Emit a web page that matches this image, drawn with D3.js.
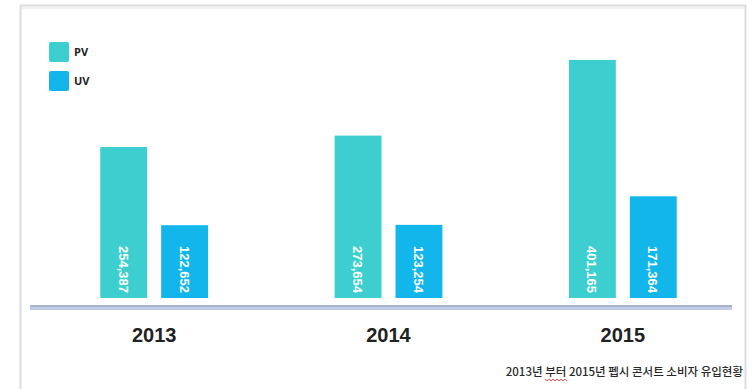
<!DOCTYPE html>
<html>
<head>
<meta charset="utf-8">
<script src="https://cdn.jsdelivr.net/npm/d3@7/dist/d3.min.js"></script>
<style>
  html, body { margin: 0; padding: 0; background: #ffffff; }
  svg { display: block; }
</style>
</head>
<body>
<svg id="chart" width="752" height="389"></svg>
<script>
const years = ["2013", "2014", "2015"];
const series = ["PV", "UV"];
const pvValues = [254387, 273654, 401165];
const uvValues = [122652, 123254, 171364];
const seriesColors = ["#3dcfcf", "#12b6ea"];
const caption = "2013년 부터 2015년 펩시 콘서트 소비자 유입현황";

const rows = years.map((y, i) => ({ year: y, PV: pvValues[i], UV: uvValues[i] }));
const fmt = d3.format(",");

const svg = d3.select("#chart");

// frame
svg.append("rect").attr("x", 20.5).attr("y", 5.5).attr("width", 725).attr("height", 390)
  .attr("fill", "#fff").attr("stroke", "#dcdcdc").attr("stroke-width", 2);
svg.append("line").attr("x1", 22).attr("x2", 744).attr("y1", 8).attr("y2", 8)
  .attr("stroke", "#f0f0f0").attr("stroke-width", 2);

const baseY = 298;
const x0 = d3.scaleBand().domain(years).range([37, 740]).paddingInner(0.54).paddingOuter(0.27);
const x1 = d3.scaleBand().domain(series).range([0, x0.bandwidth()]).paddingInner(0.23);
const y = d3.scaleLinear().domain([0, 460000]).range([baseY, 25]);
const color = d3.scaleOrdinal().domain(series).range(seriesColors);

// baseline axis line
svg.append("rect").attr("x", 30).attr("y", 305).attr("width", 702).attr("height", 5)
  .attr("fill", "#c3cae4");
svg.append("rect").attr("x", 30).attr("y", 305).attr("width", 702).attr("height", 2)
  .attr("fill", "#a9b3d0");

const groups = svg.append("g").selectAll("g").data(rows).join("g")
  .attr("transform", d => `translate(${x0(d.year)},0)`);

groups.selectAll("rect").data(d => series.map(s => ({ key: s, value: d[s] }))).join("rect")
  .attr("x", d => x1(d.key))
  .attr("y", d => y(d.value))
  .attr("width", x1.bandwidth())
  .attr("height", d => baseY - y(d.value))
  .attr("fill", d => color(d.key));

groups.selectAll("text").data(d => series.map(s => ({ key: s, value: d[s] }))).join("text")
  .attr("transform", d => `translate(${x1(d.key) + x1.bandwidth() / 2 - 5},${baseY - 5}) rotate(90)`)
  .attr("text-anchor", "end")
  .attr("font-family", "Liberation Sans, Arial, sans-serif")
  .attr("font-weight", "bold")
  .attr("font-size", 13)
  .attr("fill", "#ffffff")
  .text(d => fmt(d.value));

// year labels via axis
const xAxis = svg.append("g").attr("transform", "translate(0,342)")
  .call(d3.axisBottom(x0).tickSize(0).tickPadding(0));
xAxis.select(".domain").remove();
xAxis.selectAll("text")
  .attr("dy", 0).attr("y", 0)
  .attr("font-family", "Liberation Sans, Arial, sans-serif")
  .attr("font-weight", "bold").attr("font-size", 20).attr("fill", "#222");

// legend
const legend = svg.append("g");
series.forEach((s, i) => {
  legend.append("rect").attr("x", 49).attr("y", 42 + i * 29).attr("width", 20).attr("height", 20)
    .attr("rx", 2).attr("fill", color(s));
  legend.append("text").attr("x", 74).attr("y", 56 + i * 29)
    .attr("font-family", "Open Sans, sans-serif").attr("font-weight", "bold")
    .attr("font-size", 11).attr("fill", "#222").text(s);
});

// caption
const cap = svg.append("text").attr("x", 743).attr("y", 376).attr("text-anchor", "end")
  .attr("font-family", "Noto Sans CJK KR, sans-serif").attr("font-size", 11.5)
  .attr("font-weight", 500)
  .attr("fill", "#2a2a2a").text(caption);

// red spell-check squiggle under "부터"
const node = cap.node();
const start = caption.indexOf("부터");
const bb = node.getBBox();
const sx = bb.x + node.getSubStringLength(0, start);
const sw = node.getSubStringLength(start, 2);
let dstr = `M${sx},379`;
for (let px = sx, k = 0; px < sx + sw; px += 2, k++) {
  dstr += ` L${px + 2},${k % 2 === 0 ? 381 : 379}`;
}
svg.append("path").attr("d", dstr).attr("fill", "none").attr("stroke", "#e0302a").attr("stroke-width", 0.9);
</script>
</body>
</html>
